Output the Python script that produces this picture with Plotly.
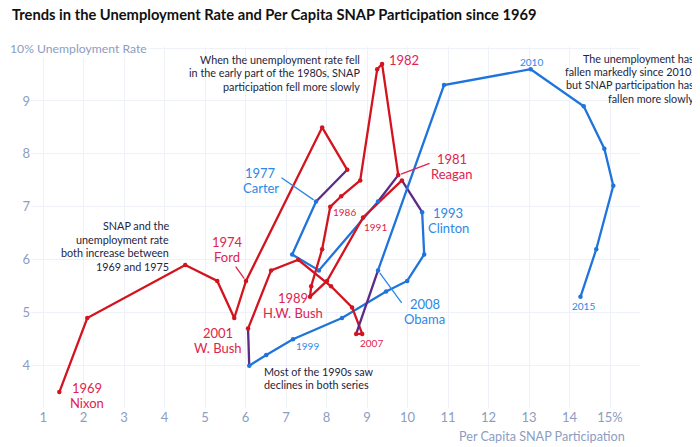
import plotly.graph_objects as go

# ---- data ----
years = list(range(1969, 2016))
snap = [1.40, 2.09, 4.51, 5.30, 5.72, 6.01, 7.89, 8.51,           # 1969-1976
        7.74, 7.15, 7.81, 9.27,                                   # 1977-1980
        9.77, 9.37, 9.25, 8.83, 8.36, 8.09, 7.89, 7.62, 7.59,     # 1981-1989
        8.01, 8.90, 9.86,                                         # 1990-1992
        10.36, 10.41, 9.99, 9.47, 8.38, 7.17, 6.51, 6.09,         # 1993-2000
        6.06, 6.63, 7.30, 8.11, 8.63, 8.88, 8.73,                 # 2001-2007
        9.27, 10.90, 13.04, 14.35, 14.86, 15.08, 14.66, 14.27]    # 2008-2015
unemp = [3.5, 4.9, 5.9, 5.6, 4.9, 5.6, 8.5, 7.7,
         7.1, 6.1, 5.8, 7.1,
         7.6, 9.7, 9.6, 7.5, 7.2, 7.0, 6.2, 5.5, 5.3,
         5.6, 6.8, 7.5,
         6.9, 6.1, 5.6, 5.4, 4.9, 4.5, 4.2, 4.0,
         4.7, 5.8, 6.0, 5.5, 5.1, 4.6, 4.6,
         5.8, 9.3, 9.6, 8.9, 8.1, 7.4, 6.2, 5.3]
party = (["R"] * 8 + ["D"] * 4 + ["R"] * 12 + ["D"] * 8 + ["R"] * 7 + ["D"] * 8)

x_ticks = list(range(1, 16))
x_ticktext = [str(v) for v in range(1, 15)] + ["15%"]
y_ticks = [4, 5, 6, 7, 8, 9, 10]
y_ticktext = ["4", "5", "6", "7", "8", "9", ""]

# ---- styles ----
LINE = {"R": "#d3141f", "D": "#1f74dc", "T": "#5a2a88"}
LABEL = {"R": "#e0234e", "D": "#2b88e6"}
DARK = "#1d2540"
TICK = "#8c9dc2"
FONT = "Lato"

fig = go.Figure()

# group consecutive segments by colour
n = len(years)
i = 0
while i < n - 1:
    key = party[i] if party[i] == party[i + 1] else "T"
    j = i
    while j < n - 1:
        k2 = party[j] if party[j] == party[j + 1] else "T"
        if k2 != key:
            break
        j += 1
    fig.add_trace(go.Scatter(
        x=snap[i:j + 1], y=unemp[i:j + 1], mode="lines",
        line=dict(color=LINE[key], width=2.3),
        hoverinfo="skip", showlegend=False))
    i = j

# markers
fig.add_trace(go.Scatter(
    x=snap, y=unemp, mode="markers",
    marker=dict(size=4.5, color=[LINE[p] for p in party]),
    text=[str(y) for y in years],
    hovertemplate="%{text}<br>SNAP %{x}%<br>Unemp %{y}%<extra></extra>",
    showlegend=False))


def idx(y):
    return years.index(y)


ann = []


def multiline(lines, x, y, anchor, color, size, spacing, xref="x", yref="y",
              bg=None, bold=False):
    m = (len(lines) - 1) / 2.0
    for k, t in enumerate(lines):
        f = dict(family=FONT, size=size, color=color)
        if bold:
            f["weight"] = "bold"
        d = dict(text=t, x=x, y=y, xref=xref, yref=yref, showarrow=False,
                 xanchor=anchor, yanchor="middle", yshift=(m - k) * spacing,
                 align=anchor, font=f)
        if bg:
            d["bgcolor"] = bg
        ann.append(d)


def leader(target, sx, sy, col):
    t = idx(target)
    ann.append(dict(text=" ", x=snap[t], y=unemp[t], ax=sx, ay=sy,
                    axref="x", ayref="y", xref="x", yref="y",
                    showarrow=True, arrowhead=0, arrowwidth=1.3,
                    arrowcolor=col, standoff=3, font=dict(size=1)))


R, D = LABEL["R"], LABEL["D"]
multiline(["1969", "Nixon"], 2.09, 3.43, "center", R, 13, 15)
multiline(["1974", "Ford"], 5.55, 6.19, "center", R, 13, 15)
leader(1974, 5.72, 5.91, R)
multiline(["1977", "Carter"], 6.38, 7.49, "center", D, 13, 15)
leader(1977, 6.85, 7.57, D)
multiline(["1981", "Reagan"], 11.1, 7.77, "center", R, 13, 15)
leader(1981, 10.58, 7.83, R)
multiline(["1989", "H.W. Bush"], 7.17, 5.13, "center", R, 13, 15)
multiline(["2001", "W. Bush"], 5.32, 4.47, "center", R, 13, 15)
multiline(["1993", "Clinton"], 11.0, 6.75, "center", D, 13, 15)
multiline(["2008", "Obama"], 10.43, 5.02, "center", D, 13, 15)
leader(2008, 9.89, 5.15, D)
multiline(["1982"], 9.48, 9.78, "left", R, 13, 15)

multiline(["1986"], 8.43, 6.91, "center", R, 10, 12)
multiline(["1991"], 9.2, 6.62, "center", R, 10, 12)
multiline(["2007"], 9.1, 4.43, "center", R, 10, 12)
multiline(["1999"], 7.52, 4.38, "center", D, 10, 12)
multiline(["2010"], 13.05, 9.74, "center", D, 10, 12)
multiline(["2015"], 14.35, 5.13, "center", D, 10, 12)

NS = 10.8
multiline(["When the unemployment rate fell",
           "in the early part of the 1980s, SNAP",
           "participation fell more slowly"], 8.87, 9.53, "right", DARK, NS, 13.4)
multiline(["The unemployment has",
           "fallen markedly since 2010,",
           "but SNAP participation has",
           "fallen more slowly"], 1.0920, 9.43, "right", DARK, NS, 13.4, xref="paper")
multiline(["SNAP and the",
           "unemployment rate",
           "both increase between",
           "1969 and 1975"], 4.16, 6.26, "right", DARK, NS, 13.4)
multiline(["Most of the 1990s saw",
           "declines in both series"], 6.4, 3.77, "left", DARK, NS, 13.4)

# axis captions
multiline(["10% Unemployment Rate"], -0.0378, 10, "left", TICK, 12.2, 15,
          xref="paper", bg="white")
multiline(["Per Capita SNAP Participation"], 0.9787, -0.0803, "right", TICK, 12.6, 15,
          xref="paper", yref="paper")

# title
multiline(["Trends in the Unemployment Rate and Per Capita SNAP Participation since 1969"],
          -0.0345, 1.0915, "left", "#111111", 14.7, 15, xref="paper", yref="paper",
          bold=True)

fig.update_layout(
    width=700, height=447,
    margin=dict(l=23, r=68, t=39, b=47),
    paper_bgcolor="white", plot_bgcolor="white",
    annotations=ann,
    xaxis=dict(range=[0.7, 15.74], tickvals=x_ticks, ticktext=x_ticktext,
               showgrid=True, gridcolor="#eef1f7", gridwidth=1, zeroline=False,
               showline=False, ticks="", automargin=False,
               tickfont=dict(family=FONT, size=13, color=TICK)),
    yaxis=dict(range=[3.2, 10.02], tickvals=y_ticks, ticktext=y_ticktext,
               showgrid=True, gridcolor="#eef1f7", gridwidth=1, zeroline=False,
               showline=False, ticks="", automargin=False,
               tickfont=dict(family=FONT, size=13, color=TICK)),
)

fig.write_html("out.html")
